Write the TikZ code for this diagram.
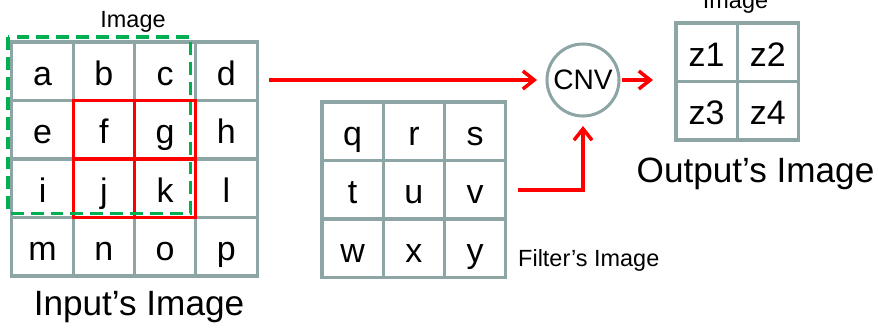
\documentclass[tikz,border=0pt]{standalone}
\usepackage{fontspec}
\setmainfont{Liberation Sans}
\usetikzlibrary{arrows.meta,calc}
\definecolor{gridgray}{HTML}{8EA5A5}
\definecolor{markred}{HTML}{FF0000}
\definecolor{markgreen}{HTML}{00B050}
\tikzset{
  cell/.style={draw=gridgray,line width=2.6pt,outer sep=0pt,inner sep=0pt,
               minimum width=1.8375cm,minimum height=1.755cm,
               text height=24pt,text depth=0pt,
               font=\fontsize{29}{33}\selectfont},
  convnode/.style={draw=gridgray,line width=2.6pt,circle,outer sep=0pt,
                   inner sep=0pt,minimum size=2.16cm,
                   font=\fontsize{24}{28}\selectfont},
  bigcaption/.style={anchor=base,inner sep=0pt,font=\fontsize{30}{34}\selectfont},
  smallcaption/.style={anchor=base,inner sep=0pt,font=\fontsize{20}{24}\selectfont},
  redline/.style={draw=markred,line width=3pt},
  greendash/.style={draw=markgreen,line width=3pt,dash pattern=on 11pt off 6pt},
  redarr/.style={-{Straight Barb[length=3.4mm,width=5.4mm]},draw=markred,line width=3pt}
}
\begin{document}
\begin{tikzpicture}[x=0.03cm,y=-0.03cm]
  \clip (0,0) rectangle (878,327);
  % input image
  \node[cell] (a) at (42.6,71.25) {a};
  \node[cell] (b) at (103.9,71.25) {b};
  \node[cell] (c) at (165.1,71.25) {c};
  \node[cell] (d) at (226.4,71.25) {d};
  \node[cell] (e) at (42.6,129.75) {e};
  \node[cell] (f) at (103.9,129.75) {f};
  \node[cell] (g) at (165.1,129.75) {g};
  \node[cell] (h) at (226.4,129.75) {h};
  \node[cell] (i) at (42.6,188.25) {i};
  \node[cell] (j) at (103.9,188.25) {j};
  \node[cell] (k) at (165.1,188.25) {k};
  \node[cell] (l) at (226.4,188.25) {l};
  \node[cell] (m) at (42.6,246.75) {m};
  \node[cell] (n) at (103.9,246.75) {n};
  \node[cell] (o) at (165.1,246.75) {o};
  \node[cell] (p) at (226.4,246.75) {p};
  \draw[redline] (f.north west) rectangle (f.south east);
  \draw[redline] (g.north west) rectangle (g.south east);
  \draw[redline] (j.north west) rectangle (j.south east);
  \draw[redline] (k.north west) rectangle (k.south east);
  \draw[greendash] ($(a.north west)+(-4,-5)$) rectangle ($(k.south east)+(-5,-4)$);
  \node[smallcaption] (inlabel) at (133,27) {Image};
  \node[bigcaption] (incaption) at (139,315) {Input’s Image};

  % filter
  \node[cell] (q) at (352.6,131.25) {q};
  \node[cell] (r) at (413.9,131.25) {r};
  \node[cell] (s) at (475.1,131.25) {s};
  \node[cell] (t) at (352.6,189.75) {t};
  \node[cell] (u) at (413.9,189.75) {u};
  \node[cell] (v) at (475.1,189.75) {v};
  \node[cell] (w) at (352.6,248.25) {w};
  \node[cell] (x) at (413.9,248.25) {x};
  \node[cell] (y) at (475.1,248.25) {y};
  \node[smallcaption,anchor=base west] (filtercaption) at (518,266) {Filter’s Image};

  % convolution
  \node[convnode] (cnv) at (583,80) {CNV};

  % output image
  \node[cell] (z1) at (706.6,52.25) {z1};
  \node[cell] (z2) at (767.9,52.25) {z2};
  \node[cell] (z3) at (706.6,110.75) {z3};
  \node[cell] (z4) at (767.9,110.75) {z4};
  \node[smallcaption] (outlabel) at (735.5,8) {Image};
  \node[bigcaption] (outcaption) at (755.5,182) {Output’s Image};

  \draw[redarr,shorten >=0.3cm] ($(d.east |- cnv.west)+(12,0)$) -- (cnv.west);
  \draw[redarr,shorten >=0.3cm] ($(v.east)+(12,0)$) -| (cnv.south);
  \draw[redarr,shorten <=0.09cm,shorten >=0.69cm] (cnv.east) -- (z1.west |- cnv.east);
\end{tikzpicture}
\end{document}
